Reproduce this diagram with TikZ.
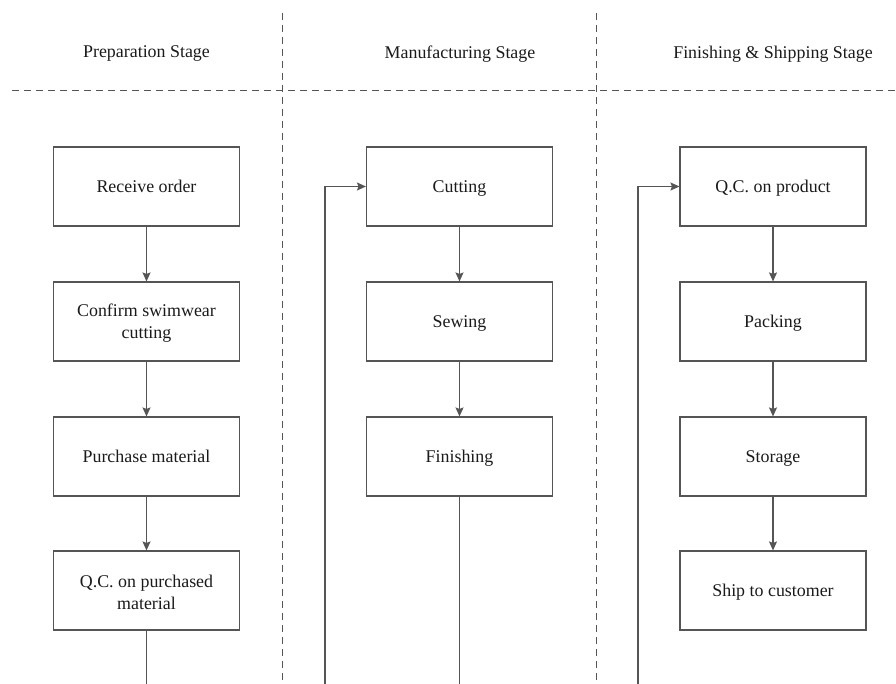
\documentclass[tikz,border=0pt]{standalone}
\usepackage{fontspec}
\setmainfont{Liberation Serif}
\usetikzlibrary{arrows.meta}
\definecolor{linec}{HTML}{555555}
\definecolor{textc}{HTML}{1A1A1A}
\newcommand\pbox[5][]{%
  \node[procbox] (#2) at (#3,#4) {};
  \node[boxtext,#1] (#2t) at ([yshift=-2pt]#2.center) {#5};}
\begin{document}
\begin{tikzpicture}[x=1pt,y=-1pt,
  every node/.style={font=\fontsize{17.9}{22}\selectfont, text=textc},
  procbox/.style={draw=linec, line width=1.1pt, minimum width=186pt, minimum height=79pt, inner sep=0pt},
  boxtext/.style={align=center, inner sep=0pt},
  oneline/.style={text height=12.3pt, text depth=3.9pt},
  lane/.style={draw=linec, line width=1pt, dash pattern=on 7pt off 5pt},
  conn/.style={draw=linec, line width=1.1pt, -{Stealth[length=9pt,width=8pt,inset=1.5pt]}},
  plain/.style={draw=linec, line width=1.1pt}]
\useasboundingbox (0,0) rectangle (896,684);
% lanes
\draw[lane] (12,91) -- (896,91);
\draw[lane] (282,13) -- (282,684);
\draw[lane] (596,13) -- (596,684);
% headers
\node (h1) at (146.5,54) {Preparation Stage};
\node (h2) at (460,54) {Manufacturing Stage};
\node (h3) at (773,54) {Finishing \& Shipping Stage};
% column 1
\pbox[oneline]{a1}{146.5}{186.5}{Receive order}
\pbox{a2}{146.5}{321.5}{Confirm swimwear\\cutting}
\pbox[oneline]{a3}{146.5}{456.5}{Purchase material}
\pbox{a4}{146.5}{590.5}{Q.C. on purchased\\material}
% column 2
\pbox[oneline]{b1}{459.5}{186.5}{Cutting}
\pbox[oneline]{b2}{459.5}{321.5}{Sewing}
\pbox[oneline]{b3}{459.5}{456.5}{Finishing}
% column 3
\pbox[oneline]{c1}{773}{186.5}{Q.C. on product}
\pbox[oneline]{c2}{773}{321.5}{Packing}
\pbox[oneline]{c3}{773}{456.5}{Storage}
\pbox[oneline]{c4}{773}{590.5}{Ship to customer}
% arrows
\draw[conn] (a1) -- (a2);
\draw[conn] (a2) -- (a3);
\draw[conn] (a3) -- (a4);
\draw[conn] (b1) -- (b2);
\draw[conn] (b2) -- (b3);
\draw[conn] (c1) -- (c2);
\draw[conn] (c2) -- (c3);
\draw[conn] (c3) -- (c4);
% continuation lines
\coordinate (e1) at (146.5,684);
\coordinate (e2) at (459.5,684);
\coordinate (s2) at (325,684);
\coordinate (s3) at (638,684);
\draw[plain] (a4.south) -- (e1);
\draw[plain] (b3.south) -- (e2);
\draw[conn] (s2) |- (b1.west);
\draw[conn] (s3) |- (c1.west);
\end{tikzpicture}
\end{document}
